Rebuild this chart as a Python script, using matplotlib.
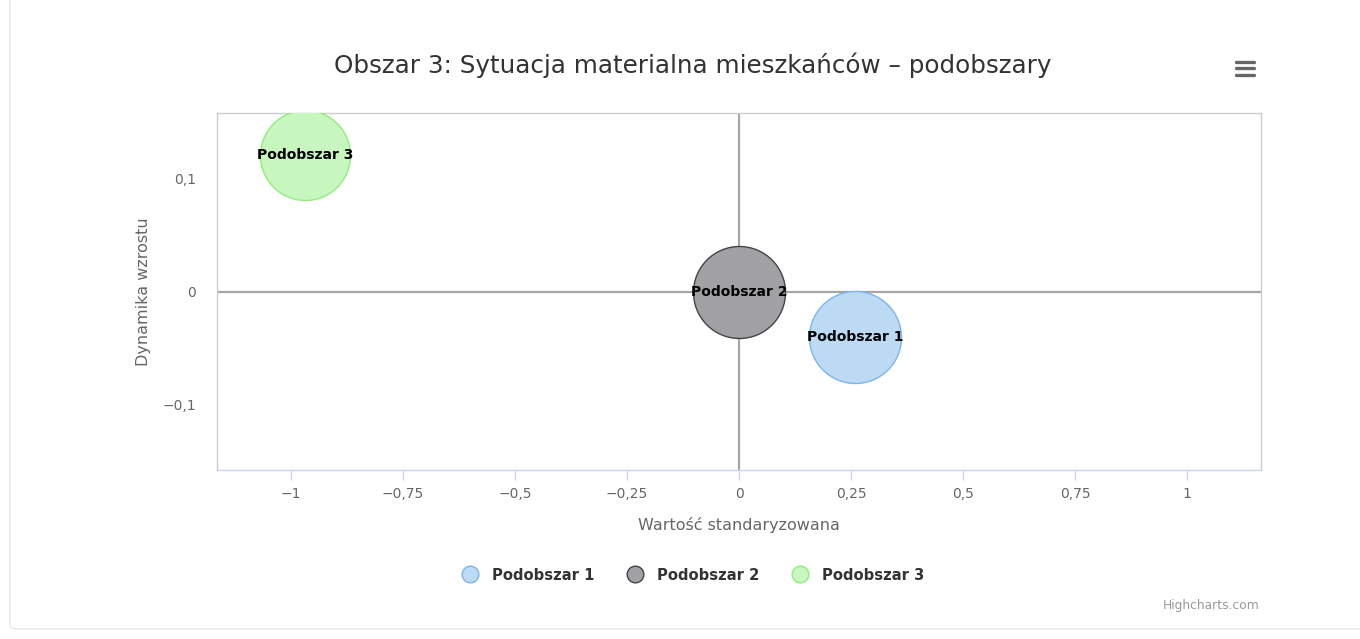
import matplotlib.pyplot as plt
from matplotlib.patches import Circle, FancyBboxPatch
from matplotlib.lines import Line2D
from matplotlib.ticker import FuncFormatter, FixedLocator
from matplotlib.transforms import ScaledTranslation

# dane
names = ["Podobszar 1", "Podobszar 2", "Podobszar 3"]
x_vals = [0.259, 0.0, -0.969]
y_vals = [-0.040, 0.0, 0.121]
bubble_px = [46, 46, 45]   # promien bąbla w pikselach
fills = ["#bddaf5", "#a1a1a3", "#c7f6be"]
edges = ["#7cb5ec", "#434348", "#90ed7d"]
x_ticks = [-1, -0.75, -0.5, -0.25, 0, 0.25, 0.5, 0.75, 1]
y_ticks = [-0.1, 0, 0.1]

plt.rcParams['font.family'] = ['DejaVu Sans']

fig = plt.figure(figsize=(13.6, 6.39), dpi=100)
ax = fig.add_axes([217/1360, 1-470/639, 1044/1360, 357/639])

# ramka wokol wykresu
fig.patches.append(FancyBboxPatch((10/1360, 10/639), 1400/1360, 700/639,
                                  boxstyle="round,pad=0,rounding_size=0.006",
                                  transform=fig.transFigure, fc="white",
                                  ec="#e6e6e6", lw=1, zorder=-1))

ax.set_xlim(-1.165, 1.165)
ax.set_ylim(-0.158, 0.158)

ax.axhline(0, color="#a6a6a6", lw=1.6, zorder=1)
ax.axvline(0, color="#a6a6a6", lw=1.6, zorder=1)

for i in range(len(names)):
    d = 2 * bubble_px[i] * 0.72
    ax.scatter(x_vals[i], y_vals[i], s=d**2, c=fills[i], edgecolors=edges[i],
               linewidths=1, zorder=3 if i != 1 else 2)
    t = ax.text(x_vals[i], y_vals[i], names[i], ha="center", va="center",
                fontsize=10, fontweight="bold", color="black", zorder=5)
    clip = Circle((0, 0), radius=(bubble_px[i] + 1) / 100,
                  transform=fig.dpi_scale_trans + ScaledTranslation(x_vals[i], y_vals[i], ax.transData))
    t.set_clip_path(clip)

def fmt(v, pos):
    s = ("%g" % round(v, 4)).replace(".", ",").replace("-", "\u2212")
    return s

ax.xaxis.set_major_locator(FixedLocator(x_ticks))
ax.yaxis.set_major_locator(FixedLocator(y_ticks))
ax.xaxis.set_major_formatter(FuncFormatter(fmt))
ax.yaxis.set_major_formatter(FuncFormatter(fmt))
ax.tick_params(axis="x", length=7.5, width=1, color="#ccd6eb", labelcolor="#666666",
               labelsize=10, pad=5)
ax.tick_params(axis="y", length=0, labelcolor="#666666", labelsize=10, pad=15)

for side in ["left", "top", "right"]:
    ax.spines[side].set_color("#cccccc")
    ax.spines[side].set_linewidth(1)
ax.spines["bottom"].set_color("#ccd6eb")
ax.spines["bottom"].set_linewidth(1)

ax.set_xlabel("Wartość standaryzowana", color="#666666", fontsize=11.5, labelpad=11)
ax.set_ylabel("Dynamika wzrostu", color="#666666", fontsize=11.5, labelpad=8)

fig.text(693/1360, 1-65/639, "Obszar 3: Sytuacja materialna mieszkańców \u2013 podobszary",
         ha="center", va="center", fontsize=17.7, color="#333333")

# ikona menu
for yy in [62, 68, 75]:
    fig.add_artist(Line2D([1236/1360, 1254/1360], [1-yy/639, 1-yy/639], color="#666666",
                          lw=2.4, solid_capstyle="round", transform=fig.transFigure))

handles = [Line2D([], [], marker="o", ls="none", markersize=12, markerfacecolor=fills[i],
                  markeredgecolor=edges[i], markeredgewidth=1) for i in range(len(names))]
leg = fig.legend(handles, names, loc="center", bbox_to_anchor=(690/1360, 1-575/639), ncol=3,
                 frameon=False, handletextpad=0.5, columnspacing=1.75,
                 prop={"size": 10.6, "weight": "bold"})
for t in leg.get_texts():
    t.set_color("#333333")

fig.text(1260/1360, 1-606/639, "Highcharts.com", ha="right", va="center",
         fontsize=8.8, color="#999999")

fig.savefig("out.png", dpi=100)
